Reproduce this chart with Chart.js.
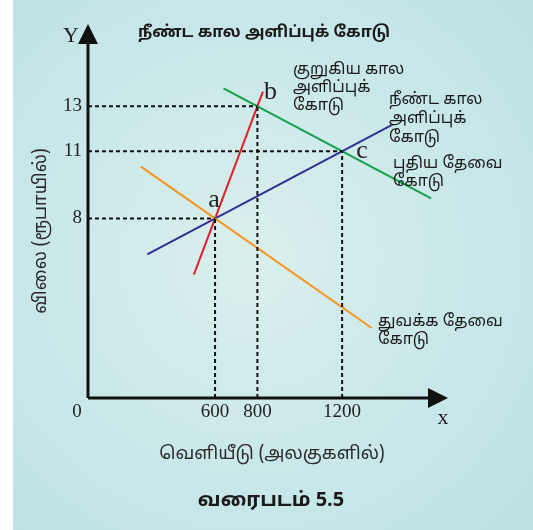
<!DOCTYPE html>
<html lang="ta">
<head>
<meta charset="UTF-8">
<title>வரைபடம் 5.5</title>
<script src="https://cdn.jsdelivr.net/npm/chart.js"></script>
<style>
  html, body { margin: 0; padding: 0; background: #fff; }
  #wrap { width: 533px; height: 530px; }
</style>
</head>
<body>
<div id="wrap"><canvas id="grafico" width="533" height="530"></canvas></div>
<script>
  // valores
  const xTicks = [600, 800, 1200];
  const yTicks = [8, 11, 13];
  const pontoNomes = ['a', 'b', 'c'];
  const pontoX = [600, 800, 1200];
  const pontoY = [8, 13, 11];

  const curtoPrazoX = [500, 826];      // குறுகிய கால அளிப்புக் கோடு
  const curtoPrazoY = [5.5, 13.65];
  const longoPrazoX = [280, 1440];     // நீண்ட கால அளிப்புக் கோடு
  const longoPrazoY = [6.4, 12.2];
  const novaDemandaX = [640, 1620];    // புதிய தேவை கோடு
  const novaDemandaY = [13.8, 8.9];
  const demandaInicialX = [250, 1340]; // துவக்க தேவை கோடு
  const demandaInicialY = [10.31, 3.12];

  const xMax = 1700;
  const yMax = 16;

  const tamil = '"Noto Sans Tamil", "Lohit Tamil", "Latha", "Noto Sans", sans-serif';
  const serif = '"Liberation Serif", "DejaVu Serif", serif';

  function pares(xs, ys) {
    return xs.map((x, i) => ({ x: x, y: ys[i] }));
  }

  function linha(label, xs, ys, cor) {
    return {
      label: label,
      data: pares(xs, ys),
      showLine: true,
      borderColor: cor,
      borderWidth: 2,
      pointRadius: 0,
      tension: 0
    };
  }

  // linhas tracejadas de guia: do eixo até o ponto
  var guias = [];
  for (var i = 0; i < pontoX.length; i++) {
    guias.push({
      label: 'guia-h-' + pontoNomes[i],
      data: [{ x: 0, y: pontoY[i] }, { x: pontoX[i], y: pontoY[i] }],
      showLine: true, borderColor: '#111', borderWidth: 2,
      borderDash: [4, 3], pointRadius: 0
    });
    guias.push({
      label: 'guia-v-' + pontoNomes[i],
      data: [{ x: pontoX[i], y: 0 }, { x: pontoX[i], y: pontoY[i] }],
      showLine: true, borderColor: '#111', borderWidth: 2,
      borderDash: [4, 3], pointRadius: 0
    });
  }

  const fundo = {
    id: 'fundo',
    beforeDraw(chart) {
      const ctx = chart.ctx;
      ctx.save();
      ctx.fillStyle = '#ffffff';
      ctx.fillRect(0, 0, chart.width, chart.height);
      var g = ctx.createRadialGradient(250, 260, 20, 250, 260, 360);
      g.addColorStop(0, '#d8efed');
      g.addColorStop(1, '#bfe2e5');
      ctx.fillStyle = g;
      ctx.fillRect(13, 0, chart.width - 13, chart.height);
      ctx.restore();
    }
  };

  function textoLinhas(ctx, linhas, x, y, passo) {
    linhas.forEach((t, i) => ctx.fillText(t, x, y + i * passo));
  }

  const eixos = {
    id: 'eixos',
    afterDatasetsDraw(chart) {
      const ctx = chart.ctx;
      const sx = chart.scales.x;
      const sy = chart.scales.y;
      const x0 = sx.getPixelForValue(0);
      const y0 = sy.getPixelForValue(0);
      const xEnd = sx.getPixelForValue(xMax);
      ctx.save();

      // eixos
      ctx.strokeStyle = '#111';
      ctx.lineWidth = 3;
      ctx.beginPath();
      ctx.moveTo(x0, y0);
      ctx.lineTo(x0, 40);
      ctx.moveTo(x0, y0);
      ctx.lineTo(xEnd - 18, y0);
      ctx.stroke();

      ctx.fillStyle = '#111';
      ctx.beginPath();
      ctx.moveTo(x0, 24);
      ctx.lineTo(x0 + 10, 44);
      ctx.lineTo(x0 - 10, 44);
      ctx.closePath();
      ctx.fill();
      ctx.beginPath();
      ctx.moveTo(xEnd, y0);
      ctx.lineTo(xEnd - 20, y0 - 10);
      ctx.lineTo(xEnd - 20, y0 + 10);
      ctx.closePath();
      ctx.fill();

      // rótulos dos ticks
      ctx.fillStyle = '#222';
      ctx.font = '19px ' + serif;
      ctx.textBaseline = 'middle';
      ctx.textAlign = 'right';
      yTicks.forEach(v => ctx.fillText(String(v), x0 - 6, sy.getPixelForValue(v)));
      ctx.textAlign = 'center';
      xTicks.forEach(v => ctx.fillText(String(v), sx.getPixelForValue(v), y0 + 14));
      ctx.fillText('0', x0 - 11, y0 + 14);

      ctx.font = '22px ' + serif;
      ctx.fillText('Y', x0 - 17, 36);
      ctx.fillText('x', xEnd - 5, y0 + 20);

      // nomes dos pontos
      ctx.font = '26px ' + serif;
      const desloc = [[-1, -18], [13, -14], [20, 0]];
      pontoNomes.forEach((n, i) => {
        ctx.fillText(n, sx.getPixelForValue(pontoX[i]) + desloc[i][0],
          sy.getPixelForValue(pontoY[i]) + desloc[i][1]);
      });

      // textos em tâmil
      ctx.fillStyle = '#1a1a1a';
      ctx.font = 'bold 16px ' + tamil;
      ctx.fillText('நீண்ட கால அளிப்புக் கோடு', 264, 34);

      ctx.font = '16px ' + tamil;
      ctx.textAlign = 'left';
      textoLinhas(ctx, ['குறுகிய கால', 'அளிப்புக்', 'கோடு'], 293, 71, 18);
      textoLinhas(ctx, ['நீண்ட கால', 'அளிப்புக்', 'கோடு'], 389, 101, 19);
      textoLinhas(ctx, ['புதிய தேவை', 'கோடு'], 393, 165, 18);
      textoLinhas(ctx, ['துவக்க தேவை', 'கோடு'], 378, 323, 18);

      ctx.textAlign = 'center';
      ctx.fillStyle = '#2a2a2a';
      ctx.font = '18px ' + tamil;
      ctx.fillText('வெளியீடு (அலகுகளில்)', 272, 455);

      ctx.save();
      ctx.translate(42, 231);
      ctx.rotate(-Math.PI / 2);
      ctx.fillText('விலை (ரூபாயில்)', 0, 0);
      ctx.restore();

      ctx.fillStyle = '#1a1a1a';
      ctx.font = 'bold 20px ' + tamil;
      ctx.fillText('வரைபடம் 5.5', 271, 502);
      ctx.restore();
    }
  };

  const ctx = document.getElementById('grafico').getContext('2d');
  window.grafico = new Chart(ctx, {
    type: 'scatter',
    data: {
      datasets: guias.concat([
        linha('துவக்க தேவை கோடு', demandaInicialX, demandaInicialY, '#f7941d'),
        linha('நீண்ட கால அளிப்புக் கோடு', longoPrazoX, longoPrazoY, '#2e3192'),
        linha('புதிய தேவை கோடு', novaDemandaX, novaDemandaY, '#12a04a'),
        linha('குறுகிய கால அளிப்புக் கோடு', curtoPrazoX, curtoPrazoY, '#e31e2a')
      ])
    },
    options: {
      responsive: false,
      animation: false,
      layout: { padding: { left: 88, top: 39, right: 85, bottom: 132 } },
      plugins: { legend: { display: false }, tooltip: { enabled: false } },
      scales: {
        x: { type: 'linear', min: 0, max: xMax, display: false },
        y: { type: 'linear', min: 0, max: yMax, display: false }
      }
    },
    plugins: [fundo, eixos]
  });
</script>
</body>
</html>
